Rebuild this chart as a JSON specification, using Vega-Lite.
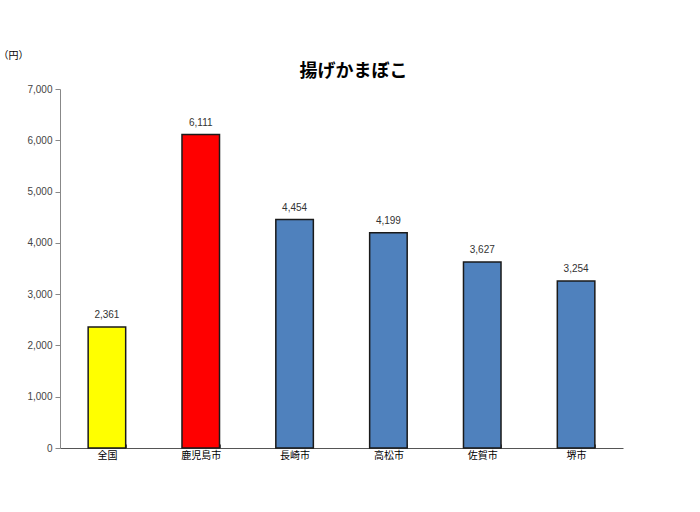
{
  "$schema": "https://vega.github.io/schema/vega-lite/v6.json",
  "autosize": {"type": "none"},
  "width": 563,
  "height": 359,
  "padding": {"left": 60, "top": 89, "right": 77, "bottom": 64},
  "background": "white",
  "title": {
    "text": "揚げかまぼこ",
    "font": "Noto Sans CJK JP",
    "fontSize": 18,
    "fontWeight": "bold",
    "color": "#000",
    "dx": 12,
    "dy": 43,
    "offset": 12
  },
  "data": {
    "values": [
      {"city": "全国", "value": 2361, "group": "national"},
      {"city": "鹿児島市", "value": 6111, "group": "top"},
      {"city": "長崎市", "value": 4454, "group": "other"},
      {"city": "高松市", "value": 4199, "group": "other"},
      {"city": "佐賀市", "value": 3627, "group": "other"},
      {"city": "堺市", "value": 3254, "group": "other"}
    ]
  },
  "encoding": {
    "x": {
      "field": "city",
      "type": "nominal",
      "sort": null,
      "scale": {"paddingInner": 0.6, "paddingOuter": 0.3},
      "axis": {
        "title": null,
        "labelAngle": 0,
        "labelFont": "Noto Sans CJK JP",
        "labelFontSize": 10,
        "labelColor": "#000",
        "labelPadding": 6,
        "tickBand": "extent",
        "tickSize": -4,
        "tickColor": "#555",
        "domainColor": "#555"
      }
    },
    "y": {
      "field": "value",
      "type": "quantitative",
      "scale": {"domain": [0, 7000]},
      "axis": {
        "title": "（円）",
        "titleAngle": 0,
        "titleAlign": "left",
        "titleBaseline": "middle",
        "titleX": -62,
        "titleY": -34,
        "titleFont": "Noto Sans CJK JP",
        "titleFontSize": 10,
        "titleFontWeight": "normal",
        "titleColor": "#000",
        "values": [0, 1000, 2000, 3000, 4000, 5000, 6000, 7000],
        "format": ",d",
        "grid": false,
        "labelFont": "Liberation Sans",
        "labelFontSize": 10,
        "labelColor": "#444",
        "labelPadding": 3,
        "tickSize": 5,
        "tickColor": "#888",
        "domainColor": "#888"
      }
    }
  },
  "layer": [
    {
      "mark": {"type": "bar", "stroke": "#1a1a1a", "strokeWidth": 1.5},
      "encoding": {
        "color": {
          "field": "group",
          "type": "nominal",
          "scale": {
            "domain": ["national", "top", "other"],
            "range": ["#FFFF00", "#FF0000", "#4F81BD"]
          },
          "legend": null
        }
      }
    },
    {
      "mark": {
        "type": "text",
        "baseline": "bottom",
        "dy": -7,
        "font": "Liberation Sans",
        "fontSize": 10,
        "color": "#333"
      },
      "encoding": {
        "text": {"field": "value", "type": "quantitative", "format": ",d"}
      }
    }
  ],
  "config": {
    "view": {"stroke": null}
  }
}
